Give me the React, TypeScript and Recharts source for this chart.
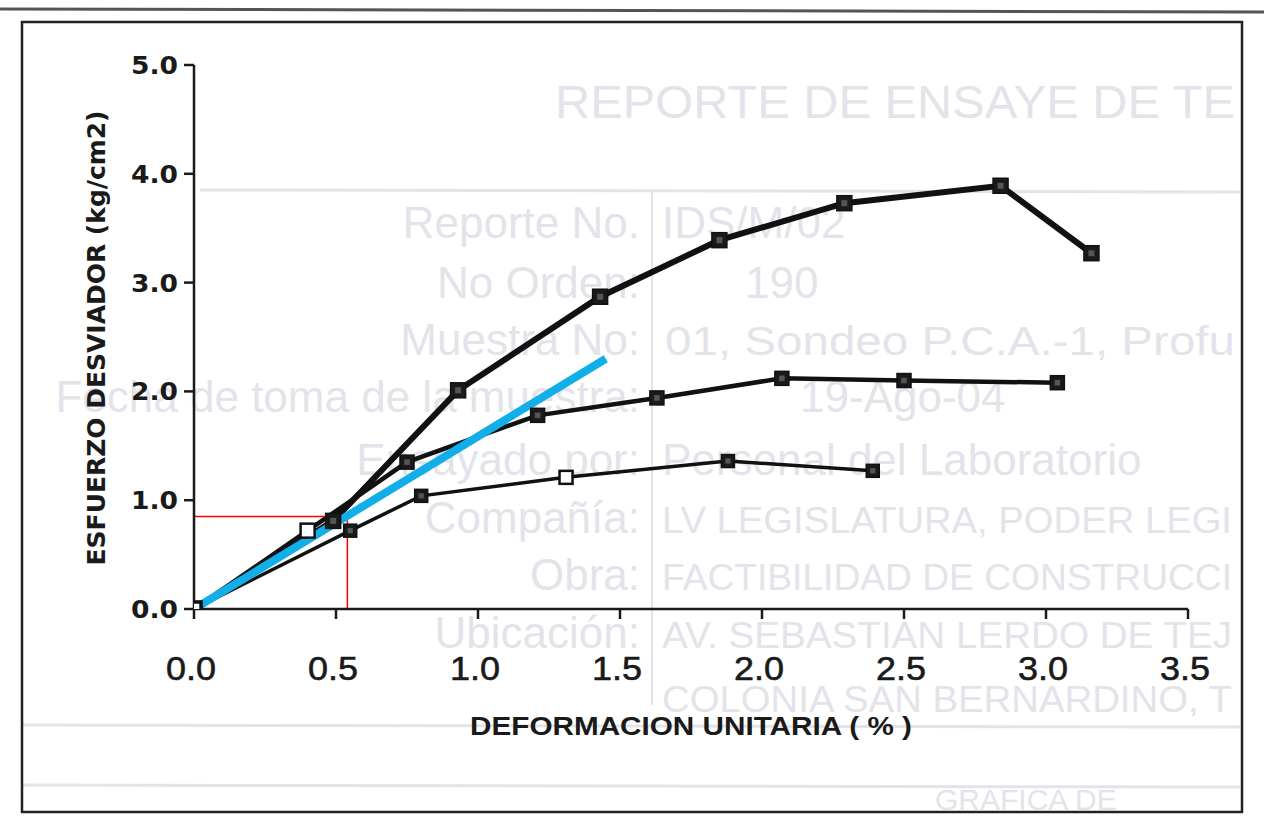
import React from "react";
import { LineChart, Line, XAxis, YAxis } from "recharts";

// ---- data ----
const xTicks = [0, 0.5, 1.0, 1.5, 2.0, 2.5, 3.0, 3.5];
const yTicks = [0, 1.0, 2.0, 3.0, 4.0, 5.0];

const strainA = [0, 0.49, 0.93, 1.43, 1.85, 2.29, 2.84, 3.16];
const stressA = [0, 0.81, 2.01, 2.87, 3.39, 3.73, 3.89, 3.27];

const strainB = [0, 0.4, 0.75, 1.21, 1.63, 2.07, 2.5, 3.04];
const stressB = [0, 0.72, 1.35, 1.78, 1.94, 2.12, 2.1, 2.08];

const strainC = [0, 0.55, 0.8, 1.31, 1.88, 2.39];
const stressC = [0, 0.72, 1.04, 1.21, 1.36, 1.27];

const trendStrain = [0, 1.45];
const trendStress = [0, 2.3];

const guideStrain = [0, 0.54, 0.54];
const guideStress = [0.85, 0.85, 0];

const hollowA = [0];
const hollowB = [0, 1];
const hollowC = [0, 3];

const xLabel = "DEFORMACION UNITARIA ( % )";
const yLabel = "ESFUERZO DESVIADOR  (kg/cm2)";

const zip = (xs: number[], ys: number[]) => xs.map((x, i) => ({ x, y: ys[i] }));

const dataA = zip(strainA, stressA);
const dataB = zip(strainB, stressB);
const dataC = zip(strainC, stressC);
const dataTrend = zip(trendStrain, trendStress);
const dataGuide = zip(guideStrain, guideStress);

// ---- layout ----
const W = 1264;
const H = 819;
const PLOT_LEFT = 194;
const PLOT_RIGHT = 1188;
const PLOT_TOP = 65;
const PLOT_BOTTOM = 609;
const Y_AXIS_W = 100;
const X_AXIS_H = 60;

const makeDot = (size: number, hollow: number[]) => (props: any) => {
  const { cx, cy, index } = props;
  if (cx == null || cy == null) return <g key={`d-${index}`} />;
  const isHollow = hollow.includes(index);
  const h = size / 2;
  if (isHollow) {
    return (
      <g key={`d-${index}`}>
        <rect x={cx - h} y={cy - h} width={size} height={size} fill="#fff" stroke="#111" strokeWidth={2.5} />
      </g>
    );
  }
  return (
    <g key={`d-${index}`}>
      <rect x={cx - h} y={cy - h} width={size} height={size} fill="#1a1a1a" stroke="#111" strokeWidth={1.5} />
      <rect x={cx - h * 0.4} y={cy - h * 0.4} width={size * 0.4} height={size * 0.4} fill="#555" />
    </g>
  );
};

const fmt = (v: number) => v.toFixed(1);

const XTick = (props: any) => {
  const { x, payload } = props;
  return (
    <text
      x={x - 3}
      y={PLOT_BOTTOM + 71}
      textAnchor="middle"
      fontFamily="'Liberation Sans', Arial, sans-serif"
      fontSize={34}
      fill="#1a1a1a"
      stroke="#1a1a1a"
      strokeWidth={0.6}
      textLength={50}
      lengthAdjust="spacingAndGlyphs"
    >
      {fmt(payload.value)}
    </text>
  );
};

const YTick = (props: any) => {
  const { y, payload } = props;
  return (
    <text
      x={178}
      y={y + 9}
      textAnchor="end"
      fontFamily="'DejaVu Sans', Verdana, sans-serif"
      fontWeight="bold"
      fontSize={25}
      fill="#1a1a1a"
      textLength={47}
      lengthAdjust="spacingAndGlyphs"
    >
      {fmt(payload.value)}
    </text>
  );
};

const XLabel = () => (
  <text
    x={691}
    y={735}
    textAnchor="middle"
    fontFamily="'Liberation Sans', Arial, sans-serif"
    fontWeight="bold"
    fontSize={26}
    fill="#1a1a1a"
    textLength={442}
    lengthAdjust="spacingAndGlyphs"
  >
    {xLabel}
  </text>
);

const YLabel = () => (
  <text
    x={0}
    y={0}
    transform={`translate(105, 338) rotate(-90)`}
    textAnchor="middle"
    fontFamily="'DejaVu Sans', Verdana, sans-serif"
    fontWeight="bold"
    fontSize={24}
    fill="#1a1a1a"
    textLength={455}
    lengthAdjust="spacingAndGlyphs"
  >
    {yLabel}
  </text>
);

const faint = "#e3e3ea";

const Background = () => (
  <svg width={W} height={H} style={{ position: "absolute", left: 0, top: 0 }}>
    <rect x={0} y={0} width={W} height={H} fill="#fff" />
    <line x1={0} y1={9} x2={W} y2={12} stroke="#555" strokeWidth={3} />
    <g fontFamily="'Liberation Sans', Arial, sans-serif" fill={faint}>
      <text x={555} y={118} fontSize={46} textLength={680} lengthAdjust="spacingAndGlyphs">REPORTE DE ENSAYE DE TE</text>
      <text x={640} y={238} fontSize={44} textAnchor="end">Reporte No.</text>
      <text x={662} y={238} fontSize={44}>IDS/M/02</text>
      <text x={640} y={298} fontSize={44} textAnchor="end">No Orden:</text>
      <text x={745} y={298} fontSize={44}>190</text>
      <text x={640} y={355} fontSize={44} textAnchor="end">Muestra No:</text>
      <text x={665} y={355} fontSize={40} textLength={570} lengthAdjust="spacingAndGlyphs">01, Sondeo P.C.A.-1, Profu</text>
      <text x={640} y={412} fontSize={44} textAnchor="end">Fecha de toma de la muestra:</text>
      <text x={800} y={412} fontSize={44}>19-Ago-04</text>
      <text x={640} y={475} fontSize={44} textAnchor="end">Ensayado por:</text>
      <text x={662} y={475} fontSize={44}>Personal del Laboratorio</text>
      <text x={640} y={533} fontSize={44} textAnchor="end">Compañía:</text>
      <text x={662} y={533} fontSize={36} textLength={570} lengthAdjust="spacingAndGlyphs">LV LEGISLATURA, PODER LEGI</text>
      <text x={640} y={590} fontSize={44} textAnchor="end">Obra:</text>
      <text x={662} y={590} fontSize={36} textLength={570} lengthAdjust="spacingAndGlyphs">FACTIBILIDAD DE CONSTRUCCI</text>
      <text x={640} y={648} fontSize={44} textAnchor="end">Ubicación:</text>
      <text x={662} y={648} fontSize={36} textLength={570} lengthAdjust="spacingAndGlyphs">AV. SEBASTIAN LERDO DE TEJ</text>
      <text x={662} y={712} fontSize={36} textLength={570} lengthAdjust="spacingAndGlyphs">COLONIA SAN BERNARDINO, T</text>
      <text x={935} y={810} fontSize={30}>GRAFICA DE</text>
    </g>
    <line x1={200} y1={190} x2={1240} y2={192} stroke={faint} strokeWidth={3} />
    <line x1={652} y1={190} x2={652} y2={705} stroke={faint} strokeWidth={2} />
    <line x1={22} y1={725} x2={1240} y2={727} stroke={faint} strokeWidth={3} />
    <line x1={22} y1={785} x2={1240} y2={787} stroke={faint} strokeWidth={3} />
    <rect x={22} y={22} width={1220} height={790} fill="none" stroke="#222" strokeWidth={2.5} />
  </svg>
);

export default function App() {
  return (
    <div style={{ position: "absolute", left: 0, top: 0, width: W, height: H, background: "#fff", overflow: "hidden" }}>
      <Background />
      <div style={{ position: "absolute", left: 0, top: 0 }}>
        <LineChart
          width={W}
          height={H}
          margin={{
            top: PLOT_TOP,
            right: W - PLOT_RIGHT,
            bottom: H - PLOT_BOTTOM - X_AXIS_H,
            left: PLOT_LEFT - Y_AXIS_W,
          }}
        >
          <XAxis
            type="number"
            dataKey="x"
            domain={[0, 3.5]}
            ticks={xTicks}
            interval={0}
            height={X_AXIS_H}
            tick={<XTick />}
            tickSize={10}
            axisLine={{ stroke: "#1a1a1a", strokeWidth: 2.5 }}
            tickLine={{ stroke: "#1a1a1a", strokeWidth: 2.5 }}
            allowDataOverflow
            label={<XLabel />}
          />
          <YAxis
            type="number"
            dataKey="y"
            domain={[0, 5]}
            ticks={yTicks}
            interval={0}
            width={Y_AXIS_W}
            tick={<YTick />}
            tickSize={10}
            axisLine={{ stroke: "#1a1a1a", strokeWidth: 2.5 }}
            tickLine={{ stroke: "#1a1a1a", strokeWidth: 2.5 }}
            allowDataOverflow
            label={<YLabel />}
          />
          <Line
            data={dataA}
            dataKey="y"
            type="linear"
            stroke="#111"
            strokeWidth={6}
            dot={makeDot(15, hollowA)}
            isAnimationActive={false}
          />
          <Line
            data={dataB}
            dataKey="y"
            type="linear"
            stroke="#111"
            strokeWidth={4.5}
            dot={makeDot(14, hollowB)}
            isAnimationActive={false}
          />
          <Line
            data={dataC}
            dataKey="y"
            type="linear"
            stroke="#111"
            strokeWidth={3.5}
            dot={makeDot(13, hollowC)}
            isAnimationActive={false}
          />
          <Line
            data={dataGuide}
            dataKey="y"
            type="linear"
            stroke="#ff0000"
            strokeWidth={1.5}
            dot={false}
            isAnimationActive={false}
          />
          <Line
            data={dataTrend}
            dataKey="y"
            type="linear"
            stroke="#12aee8"
            strokeWidth={8}
            dot={false}
            isAnimationActive={false}
          />
        </LineChart>
      </div>
    </div>
  );
}
